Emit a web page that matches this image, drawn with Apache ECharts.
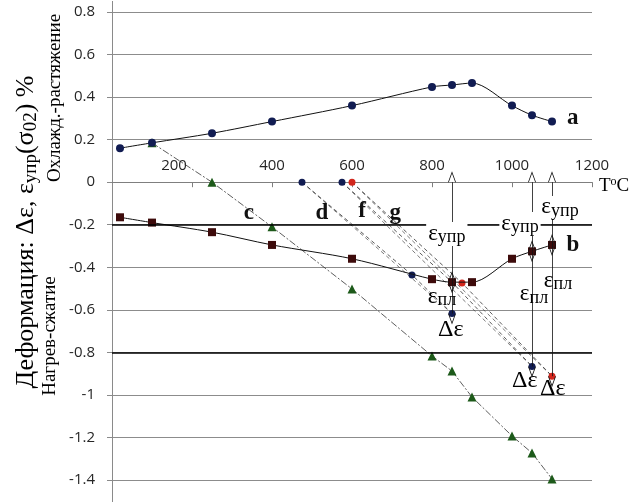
<!DOCTYPE html>
<html><head><meta charset="utf-8">
<script src="https://cdn.jsdelivr.net/npm/echarts@6/dist/echarts.min.js"></script>
<style>html,body{margin:0;padding:0;background:#fff}#c{width:630px;height:502px}</style>
</head><body><div id="c"></div>
<script>
// ---- data ----
const xTickLabels = [200, 400, 600, 800, 1000, 1200];
const yTickLabels = [0.8, 0.6, 0.4, 0.2, 0, -0.2, -0.4, -0.6, -0.8, -1, -1.2, -1.4];

const tA = [20, 100, 250, 400, 600, 800, 850, 900, 1000, 1050, 1100];
const valA = [0.16, 0.185, 0.23, 0.285, 0.36, 0.448, 0.457, 0.466, 0.36, 0.315, 0.285];

const tB = [20, 100, 250, 400, 600, 800, 850, 900, 1000, 1050, 1100];
const valB = [-0.165, -0.19, -0.235, -0.295, -0.36, -0.456, -0.47, -0.47, -0.36, -0.325, -0.295];

const tC = [100, 250, 400, 600, 800, 850, 900, 1000, 1050, 1100];
const valC = [0.185, 0, -0.21, -0.502, -0.817, -0.888, -1.01, -1.193, -1.273, -1.395];

const tD = [475, 750, 850];
const valD = [0, -0.436, -0.617];
const tF = [575, 850, 1050];
const valF = [0, -0.47, -0.866];
const tG = [600, 875, 1100];
const valG = [0, -0.474, -0.912];

// text labels anchored in data coordinates
const curveLabels = [
  {text: 'a', T: 1152, v: 0.302},
  {text: 'b', T: 1152, v: -0.295},
  {text: 'c', T: 342, v: -0.145},
  {text: 'd', T: 525, v: -0.145},
  {text: 'f', T: 625, v: -0.135},
  {text: 'g', T: 708, v: -0.145}
];
const epsLabels = [
  {kind: 'upr', T: 837, v: -0.244},
  {kind: 'upr', T: 1020, v: -0.197},
  {kind: 'upr', T: 1120, v: -0.121},
  {kind: 'pl', T: 825, v: -0.54},
  {kind: 'pl', T: 1055, v: -0.53},
  {kind: 'pl', T: 1115, v: -0.465},
  {kind: 'de', T: 847, v: -0.695},
  {kind: 'de', T: 1032, v: -0.935},
  {kind: 'de', T: 1102, v: -0.97}
];

// ---- chart ----
const serif = '"Liberation Serif","Times New Roman",serif';
const sans = '"Open Sans","Liberation Sans",Arial,sans-serif';
const NAVY = '#111c52', MAROON = '#3d0b0b', GREEN = '#1d5a1a', RED = '#d2261c';
const zip = (t, v) => t.map((x, i) => [x, v[i]]);
const chev = 'path://M5 0 L10 12 L9 12 L5 2.5 L1 12 L0 12 Z M5 24 L5.01 24 L5 24 Z';

// annotation segments derived from the data
const ends = [[tD, valD], [tF, valF], [tG, valG]];
const annSegs = [];
ends.forEach(([t, v]) => {
  const T = t[t.length - 1], e = v[v.length - 1];
  const bv = valB[tB.indexOf(T)];
  annSegs.push([{coord: [T, 0]}, {coord: [T, bv]}]);
  annSegs.push([{coord: [T, bv]}, {coord: [T, e]}]);
});

const dashSeries = (name, t, v, color, size) => ({
  name, type: 'line', data: zip(t, v), symbol: 'circle', symbolSize: size,
  itemStyle: {color}, lineStyle: {color: '#333', width: 0.8, type: [4, 3]},
  z: 3
});
const chordSeries = (t, v) => ({
  type: 'line', data: [[t[0], v[0]], [t[t.length - 1], v[v.length - 1]]],
  symbol: 'none', lineStyle: {color: '#444', width: 0.7, type: [4, 3]}, z: 2
});

const chart = echarts.init(document.getElementById('c'));
chart.setOption({
  animation: false,
  grid: {left: 112, right: 38, top: 1.4, bottom: -20.5, containLabel: false, outerBoundsMode: 'none'},
  xAxis: {
    type: 'value', min: 0, max: 1200, interval: 200, position: 'bottom', offset: 0,
    axisLine: {onZero: false, lineStyle: {color: '#7f7f7f', width: 1}},
    axisTick: {show: true, length: 5, lineStyle: {color: '#7f7f7f'}},
    splitLine: {show: false},
    axisLabel: {
      inside: true, margin: 9, color: '#262626', fontSize: 15, fontFamily: sans,
      showMinLabel: false,
      formatter: v => xTickLabels.includes(v) ? (v === 200 ? '{l|' + v + '}' : String(v)) : '',
      rich: {l: {fontSize: 15, fontFamily: sans, color: '#262626', padding: [0, 36, 0, 0]}}
    }
  },
  yAxis: {
    type: 'value', min: -1.6, max: 0.85, interval: 0.2,
    axisLine: {show: true, onZero: false, lineStyle: {color: '#8a8a8a', width: 1}},
    axisTick: {show: true, length: 5, lineStyle: {color: '#8a8a8a'}},
    splitLine: {show: true, showMaxLine: false, lineStyle: {color: '#8c8c8c', width: 1}},
    axisLabel: {
      margin: 17, color: '#262626', fontSize: 15, fontFamily: sans, showMaxLabel: false,
      formatter: v => {
        const r = Math.round(v * 10) / 10;
        return yTickLabels.includes(r) ? String(r) : '';
      }
    }
  },
  series: [
    {type: 'line', data: [], markLine: {
      silent: true, symbol: 'none', label: {show: false},
      lineStyle: {color: '#000', width: 1.6, type: 'solid'},
      data: [{yAxis: -0.2}, {yAxis: -0.8}]
    }, z: 1},
    {name: 'a', type: 'line', data: zip(tA, valA), smooth: 0.3, symbol: 'circle', symbolSize: 8,
      itemStyle: {color: NAVY}, lineStyle: {color: '#111', width: 1}, z: 4},
    {name: 'b', type: 'line', data: zip(tB, valB), smooth: 0.3, symbol: 'rect', symbolSize: 8,
      itemStyle: {color: MAROON}, lineStyle: {color: '#111', width: 1}, z: 4},
    {name: 'c', type: 'line', data: zip(tC, valC), symbol: 'triangle', symbolSize: 9,
      itemStyle: {color: GREEN}, lineStyle: {color: '#333', width: 0.8, type: [7, 2, 2, 2]}, z: 3},
    chordSeries(tD, valD), chordSeries(tF, valF), chordSeries(tG, valG),
    dashSeries('d', tD, valD, NAVY, 7),
    dashSeries('f', tF, valF, NAVY, 7),
    dashSeries('g', tG, valG, RED, 7),
    {type: 'line', data: [], z: 5, markLine: {
      silent: true, symbol: [chev, chev], symbolSize: [8, 22], label: {show: false},
      lineStyle: {color: '#111', width: 0.8, type: 'solid'},
      data: annSegs
    }}
  ]
});

const px = (T, v) => chart.convertToPixel({xAxisIndex: 0, yAxisIndex: 0}, [T, v]);
// move the x axis onto the zero line of the y axis
const zeroY = px(0, 0)[1], bottomY = px(0, -1.6)[1];
chart.setOption({xAxis: {offset: zeroY - bottomY}});

const epsRich = {
  e: {font: '23px ' + serif, lineHeight: 24, verticalAlign: 'top', fill: '#000'},
  s: {font: '18px ' + serif, lineHeight: 12, verticalAlign: 'bottom', fill: '#000'},
  d: {font: '24px ' + serif, fill: '#000'}
};
const epsText = {upr: '{e|ε}{s|упр}', pl: '{e|ε}{s|пл}', de: '{d|Δε}'};

const graphics = [];
curveLabels.forEach(l => {
  const [x, y] = px(l.T, l.v);
  graphics.push({type: 'text', x, y, z: 100, style: {legacy: false,
    text: l.text, fill: '#111', font: 'bold 23px ' + serif,
    align: 'center', verticalAlign: 'middle'}});
});
epsLabels.forEach(l => {
  const [x, y] = px(l.T, l.v);
  graphics.push({type: 'text', x, y, z: 100, style: {legacy: false,
    text: epsText[l.kind], rich: epsRich, fill: '#000',
    align: 'center', verticalAlign: 'middle',
    backgroundColor: l.kind === 'upr' ? '#fff' : null, padding: l.kind === 'upr' ? [0, 2, 0, 2] : 0}});
});
// axis titles
graphics.push({type: 'text', x: 27, y: 232, rotation: Math.PI / 2, z: 100, style: {legacy: false,
  text: '{m|Деформация: Δε, ε}{s|упр}{m|(σ}{s|02}{m|) %}',
  rich: {
    m: {font: '26px ' + serif, lineHeight: 28, verticalAlign: 'top', fill: '#000'},
    s: {font: '19px ' + serif, lineHeight: 14, verticalAlign: 'bottom', fill: '#000'}
  },
  align: 'center', verticalAlign: 'middle'}});
graphics.push({type: 'text', x: 55, y: 98, rotation: Math.PI / 2, z: 100, style: {legacy: false,
  text: 'Охлажд.-растяжение', font: '19px ' + serif, fill: '#000',
  align: 'center', verticalAlign: 'middle'}});
graphics.push({type: 'text', x: 50, y: 336, rotation: Math.PI / 2, z: 100, style: {legacy: false,
  text: 'Нагрев-сжатие', font: '19px ' + serif, fill: '#000',
  align: 'center', verticalAlign: 'middle'}});
graphics.push({type: 'text', x: 599, y: 186, z: 100, style: {legacy: false,
  text: '{t|T}{o|o}{t|C}',
  rich: {
    t: {font: '19px ' + serif, lineHeight: 20, verticalAlign: 'bottom', fill: '#000'},
    o: {font: '12px ' + serif, lineHeight: 12, verticalAlign: 'top', fill: '#000'}
  },
  align: 'left', verticalAlign: 'middle'}});

chart.setOption({graphic: graphics});
</script>
</body></html>
